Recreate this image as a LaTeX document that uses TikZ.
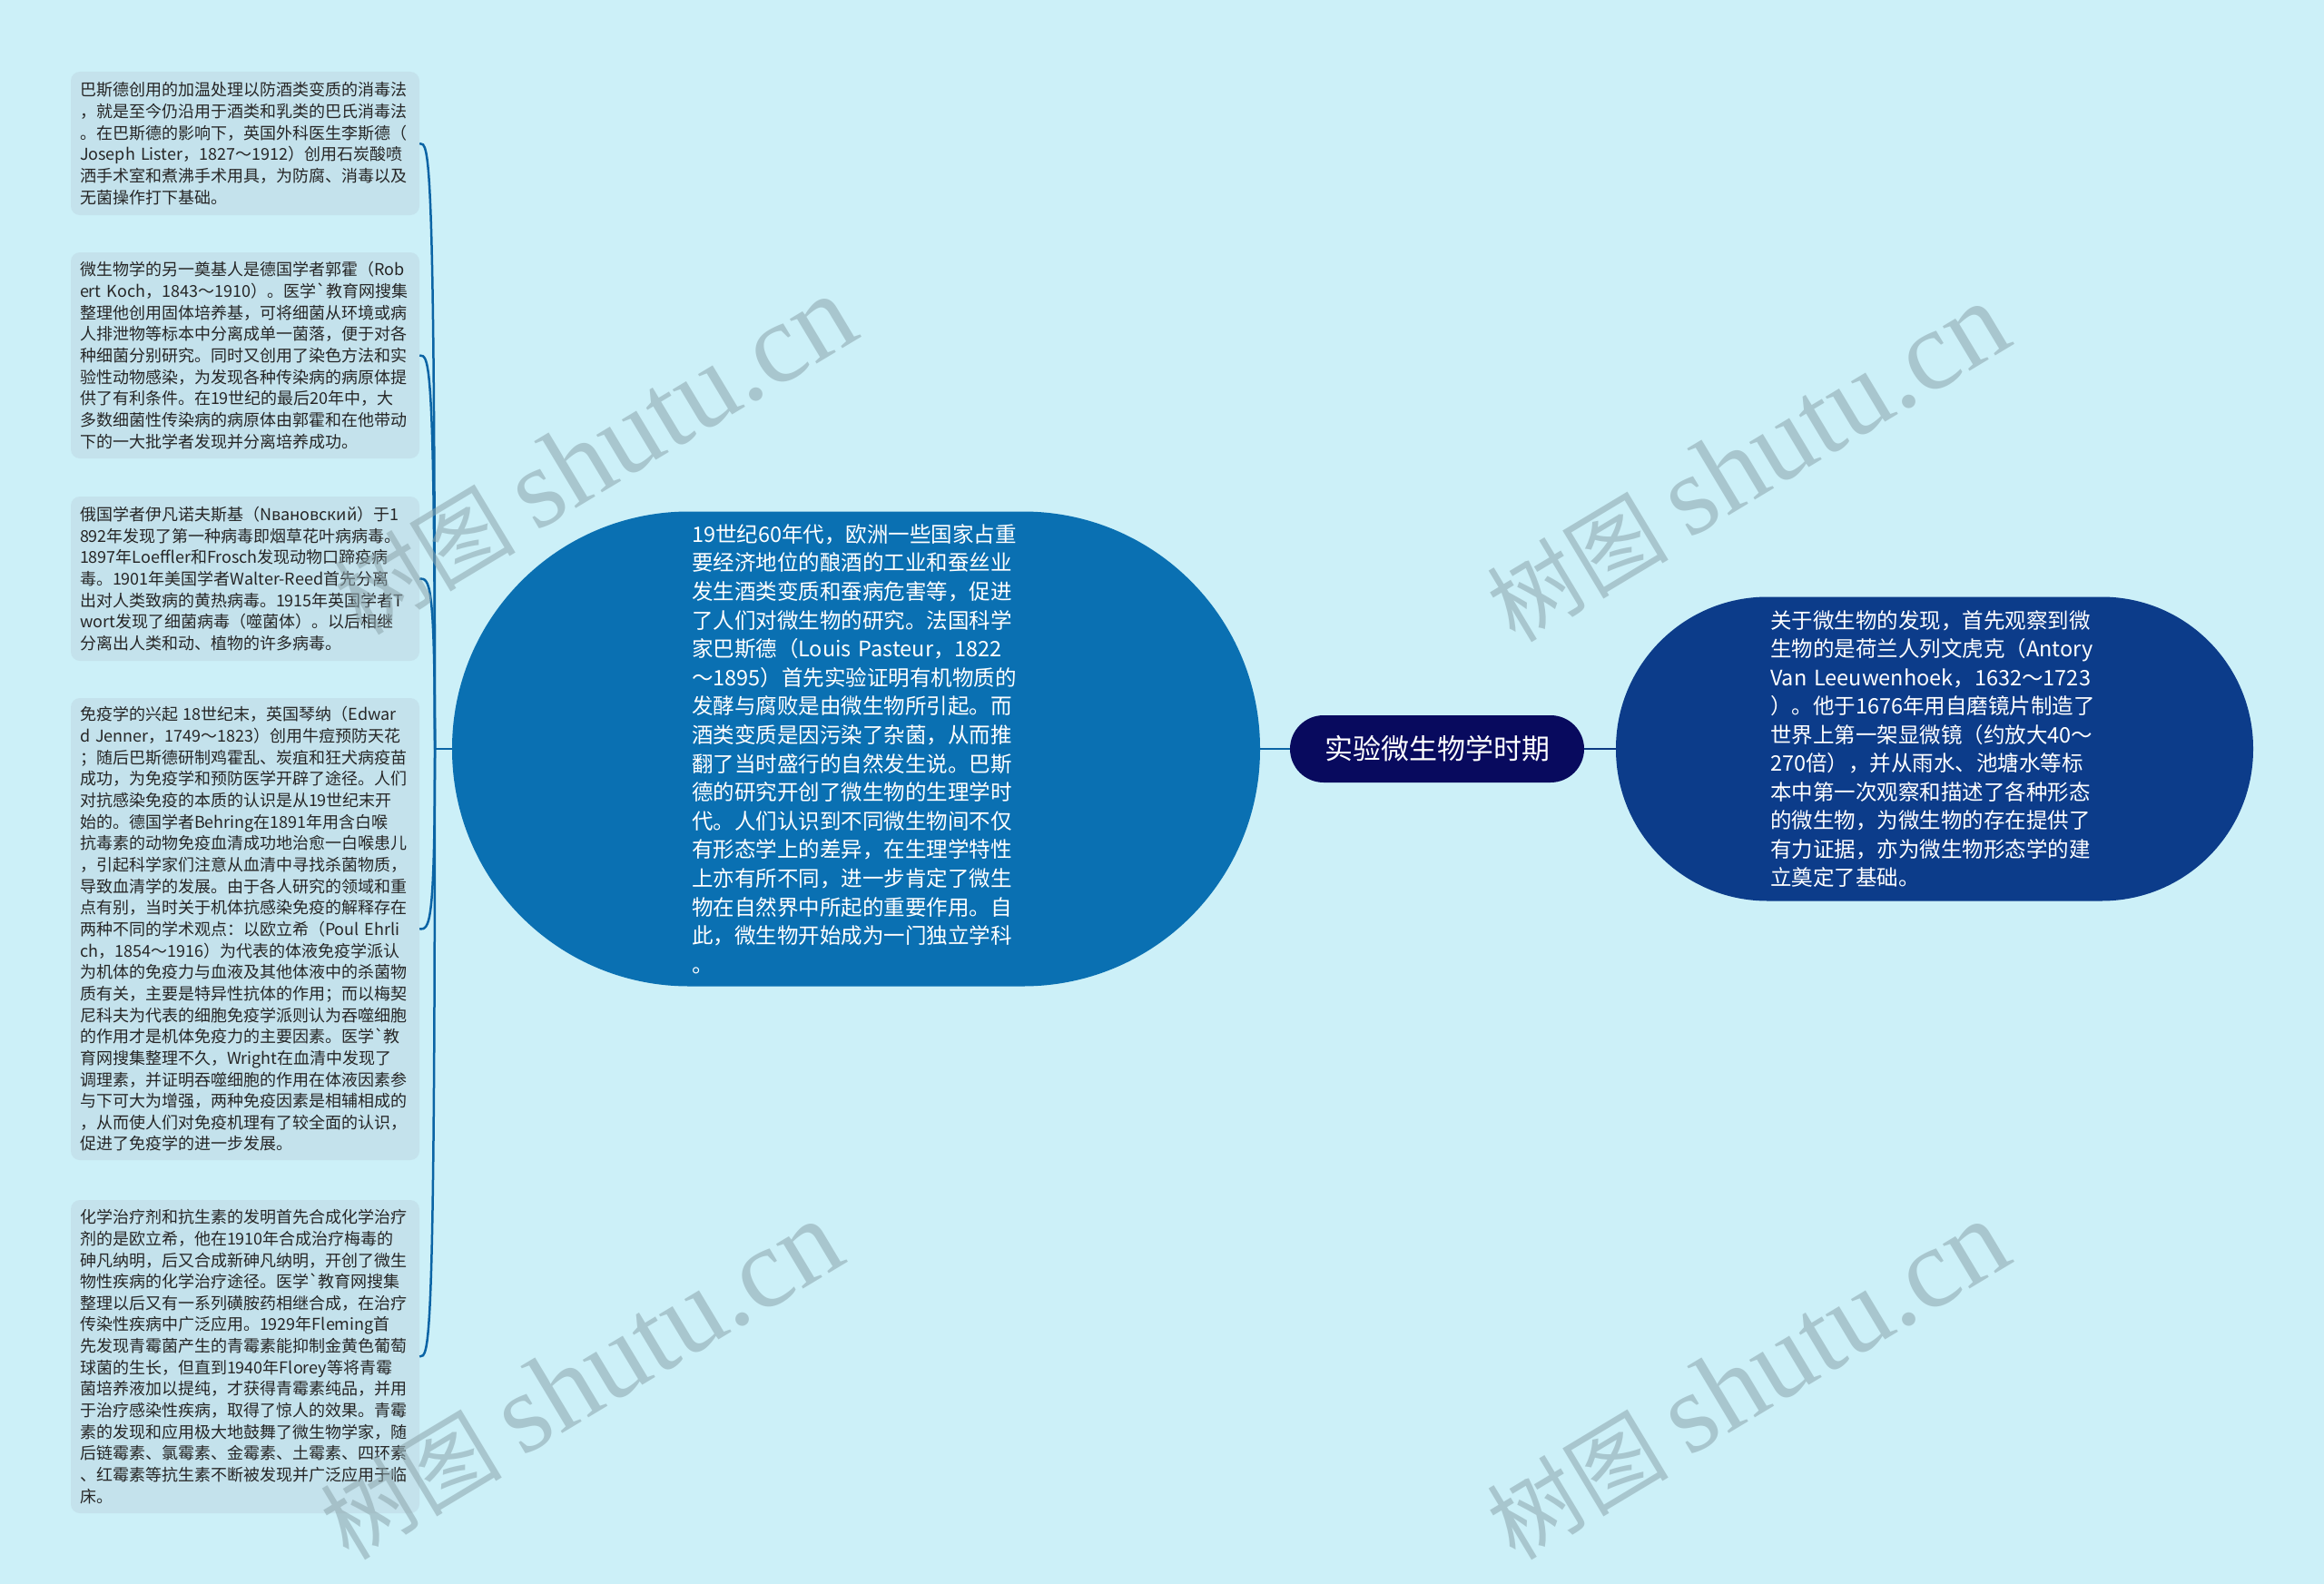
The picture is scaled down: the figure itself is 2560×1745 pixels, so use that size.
\documentclass[tikz,border=0pt]{standalone}
\usepackage{fontspec}
\setmainfont{Noto Sans CJK SC}
\newfontfamily\wmlatin{Liberation Serif}
\usetikzlibrary{calc}
\definecolor{bg}{RGB}{204,240,248}
\definecolor{boxfill}{RGB}{196,226,236}
\definecolor{txt}{RGB}{38,38,38}
\definecolor{cfill}{RGB}{10,112,178}
\definecolor{rfill}{RGB}{12,60,138}
\definecolor{tfill}{RGB}{8,10,94}
\definecolor{lline}{RGB}{10,100,165}
\definecolor{rline}{RGB}{12,58,130}
\definecolor{wmcol}{RGB}{140,165,172}
\tikzset{
  leftbox/.style={fill=boxfill, rounded corners=10pt, text width=364pt, align=left,
    inner xsep=10pt, inner ysep=0pt, font=\fontsize{18}{23.65}\selectfont, text=txt,
    minimum width=384pt},
  centerbox/.style={fill=cfill, rounded corners=261pt, minimum width=890pt, minimum height=523pt,
    text width=362pt, align=left, inner sep=4pt, font=\fontsize{23.5}{31.6}\selectfont, text=white},
  rightbox/.style={fill=rfill, rounded corners=167pt, minimum width=702pt, minimum height=335pt,
    text width=362pt, align=left, inner sep=4pt, font=\fontsize{23.5}{31.5}\selectfont, text=white},
  titlebox/.style={fill=tfill, rounded corners=37pt, minimum width=324pt, minimum height=74pt,
    inner sep=4pt, font=\fontsize{31}{36}\selectfont, text=white},
  conn/.style={draw=lline, line width=2.5pt},
  rconn/.style={draw=rline, line width=2.5pt},
  wm/.style={text=wmcol, opacity=0.55, rotate=31, inner sep=0pt, font=\fontsize{100}{110}\selectfont}
}
\begin{document}
\begin{tikzpicture}[x=1pt,y=-1pt]
\useasboundingbox (0,0) rectangle (2560,1745);
\fill[bg] (0,0) rectangle (2560,1745);

% central topic
\node[titlebox] (t) at (1583,825) {实验微生物学时期};

% big nodes
\node[centerbox] (c) at (943,825) {19世纪60年代，欧洲一些国家占重\\
要经济地位的酿酒的工业和蚕丝业\\
发生酒类变质和蚕病危害等，促进\\
了人们对微生物的研究。法国科学\\
家巴斯德（Louis Pasteur，1822\\
～1895）首先实验证明有机物质的\\
发酵与腐败是由微生物所引起。而\\
酒类变质是因污染了杂菌，从而推\\
翻了当时盛行的自然发生说。巴斯\\
德的研究开创了微生物的生理学时\\
代。人们认识到不同微生物间不仅\\
有形态学上的差异，在生理学特性\\
上亦有所不同，进一步肯定了微生\\
物在自然界中所起的重要作用。自\\
此，微生物开始成为一门独立学科\\
。};

\node[rightbox] (r) at (2131,825) {关于微生物的发现，首先观察到微\\
生物的是荷兰人列文虎克（Antory\\
Van Leeuwenhoek，1632～1723\\
）。他于1676年用自磨镜片制造了\\
世界上第一架显微镜（约放大40～\\
270倍），并从雨水、池塘水等标\\
本中第一次观察和描述了各种形态\\
的微生物，为微生物的存在提供了\\
有力证据，亦为微生物形态学的建\\
立奠定了基础。};

% left leaf boxes
\node[leftbox, minimum height=158pt] (b1) at (270,158) {巴斯德创用的加温处理以防酒类变质的消毒法\\
，就是至今仍沿用于酒类和乳类的巴氏消毒法\\
。在巴斯德的影响下，英国外科医生李斯德（\\
Joseph Lister，1827～1912）创用石炭酸喷\\
洒手术室和煮沸手术用具，为防腐、消毒以及\\
无菌操作打下基础。};

\node[leftbox, minimum height=227pt] (b2) at (270,391.5) {微生物学的另一奠基人是德国学者郭霍（Rob\\
ert Koch，1843～1910）。医学\textasciigrave 教育网搜集\\
整理他创用固体培养基，可将细菌从环境或病\\
人排泄物等标本中分离成单一菌落，便于对各\\
种细菌分别研究。同时又创用了染色方法和实\\
验性动物感染，为发现各种传染病的病原体提\\
供了有利条件。在19世纪的最后20年中，大\\
多数细菌性传染病的病原体由郭霍和在他带动\\
下的一大批学者发现并分离培养成功。};

\node[leftbox, minimum height=181pt] (b3) at (270,637.5) {俄国学者伊凡诺夫斯基（Nвановский）于1\\
892年发现了第一种病毒即烟草花叶病病毒。\\
1897年Loeffler和Frosch发现动物口蹄疫病\\
毒。1901年美国学者Walter-Reed首先分离\\
出对人类致病的黄热病毒。1915年英国学者T\\
wort发现了细菌病毒（噬菌体）。以后相继\\
分离出人类和动、植物的许多病毒。};

\node[leftbox, minimum height=509pt] (b4) at (270,1023.5) {免疫学的兴起 18世纪末，英国琴纳（Edwar\\
d Jenner，1749～1823）创用牛痘预防天花\\
；随后巴斯德研制鸡霍乱、炭疽和狂犬病疫苗\\
成功，为免疫学和预防医学开辟了途径。人们\\
对抗感染免疫的本质的认识是从19世纪末开\\
始的。德国学者Behring在1891年用含白喉\\
抗毒素的动物免疫血清成功地治愈一白喉患儿\\
，引起科学家们注意从血清中寻找杀菌物质，\\
导致血清学的发展。由于各人研究的领域和重\\
点有别，当时关于机体抗感染免疫的解释存在\\
两种不同的学术观点：以欧立希（Poul Ehrli\\
ch，1854～1916）为代表的体液免疫学派认\\
为机体的免疫力与血液及其他体液中的杀菌物\\
质有关，主要是特异性抗体的作用；而以梅契\\
尼科夫为代表的细胞免疫学派则认为吞噬细胞\\
的作用才是机体免疫力的主要因素。医学\textasciigrave 教\\
育网搜集整理不久，Wright在血清中发现了\\
调理素，并证明吞噬细胞的作用在体液因素参\\
与下可大为增强，两种免疫因素是相辅相成的\\
，从而使人们对免疫机理有了较全面的认识，\\
促进了免疫学的进一步发展。};

\node[leftbox, minimum height=345pt] (b5) at (270,1494.5) {化学治疗剂和抗生素的发明首先合成化学治疗\\
剂的是欧立希，他在1910年合成治疗梅毒的\\
砷凡纳明，后又合成新砷凡纳明，开创了微生\\
物性疾病的化学治疗途径。医学\textasciigrave 教育网搜集\\
整理以后又有一系列磺胺药相继合成，在治疗\\
传染性疾病中广泛应用。1929年Fleming首\\
先发现青霉菌产生的青霉素能抑制金黄色葡萄\\
球菌的生长，但直到1940年Florey等将青霉\\
菌培养液加以提纯，才获得青霉素纯品，并用\\
于治疗感染性疾病，取得了惊人的效果。青霉\\
素的发现和应用极大地鼓舞了微生物学家，随\\
后链霉素、氯霉素、金霉素、土霉素、四环素\\
、红霉素等抗生素不断被发现并广泛应用于临\\
床。};

% connectors
\draw[conn] (c.east) -- (t.west);
\draw[rconn] (t.east) -- (r.west);
\coordinate (J) at (479,825);
\draw[conn] (c.west) -- (J);
\foreach \b in {b1,b2,b3,b4,b5}{
  \draw[conn] (J) .. controls (J |- \b.east) and ([xshift=-6pt]J |- \b.east) .. (\b.east);
}

% watermarks
\node[wm] (w1) at (655,502) {树图 {\wmlatin\fontsize{125}{130}\selectfont shutu.cn}};
\node[wm] (w2) at (1925,510) {树图 {\wmlatin\fontsize{125}{130}\selectfont shutu.cn}};
\node[wm] (w3) at (640,1521) {树图 {\wmlatin\fontsize{125}{130}\selectfont shutu.cn}};
\node[wm] (w4) at (1925,1521) {树图 {\wmlatin\fontsize{125}{130}\selectfont shutu.cn}};
\end{tikzpicture}
\end{document}
